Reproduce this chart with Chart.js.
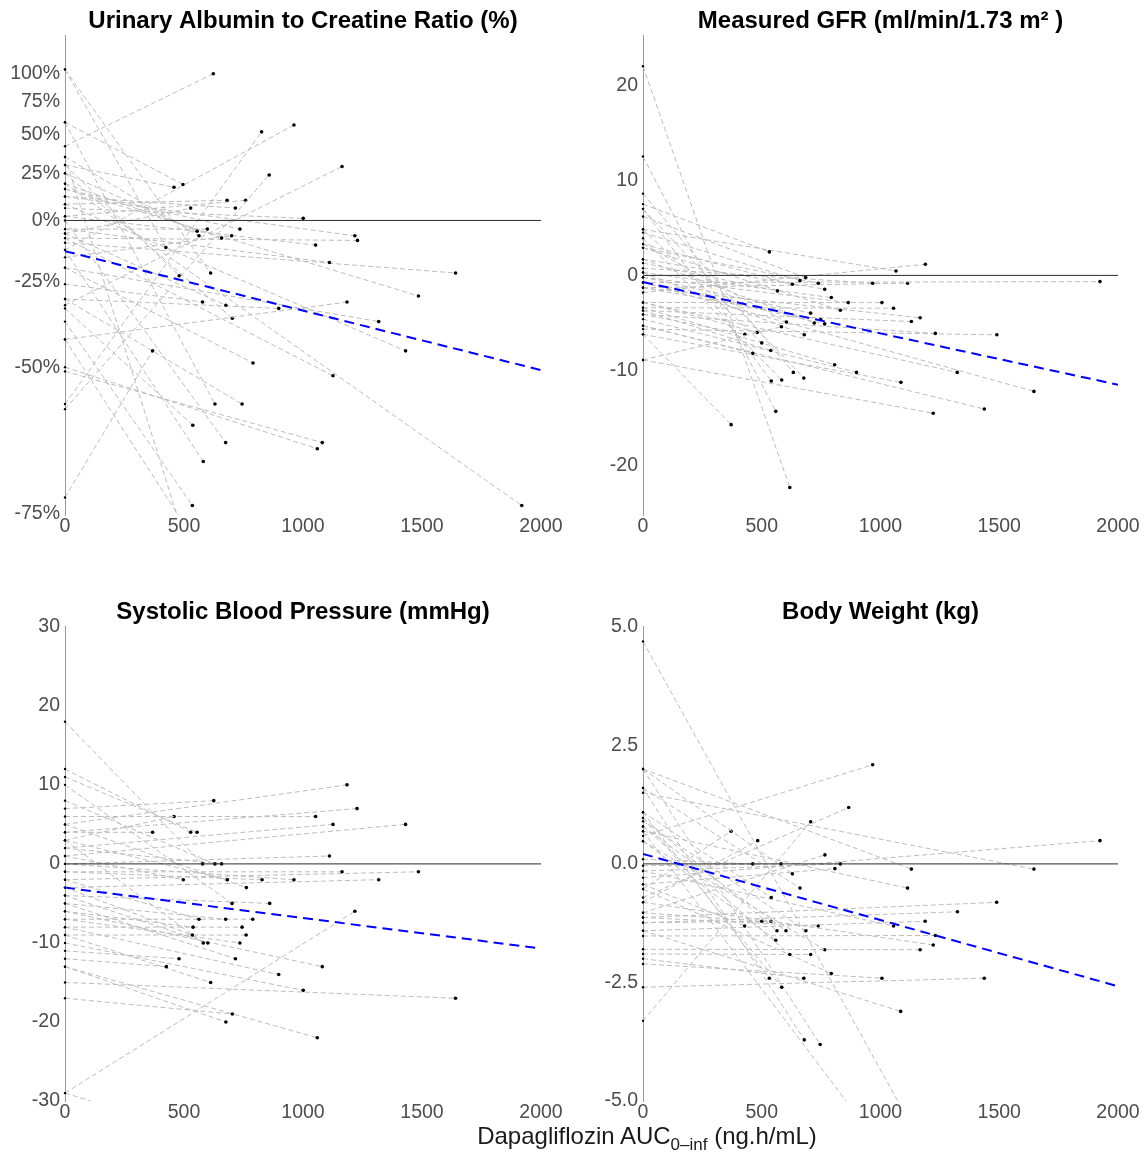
<!DOCTYPE html>
<html>
<head>
<meta charset="utf-8">
<script src="https://cdn.jsdelivr.net/npm/chart.js@4.4.0/dist/chart.umd.min.js"></script>
<style>
body { margin: 0; background: #fff; width: 1146px; height: 1152px; position: relative; overflow: hidden; font-family: "Liberation Sans", Arial, sans-serif; }
canvas { position: absolute; }
#xtitle { position: absolute; left: 347px; width: 600px; top: 1122px; text-align: center; font-size: 24px; color: #1a1a1a; }
#xtitle sub { font-size: 17px; }
</style>
</head>
<body>
<canvas id="c1" width="573" height="548" style="left:0;top:0"></canvas>
<canvas id="c2" width="568" height="548" style="left:578px;top:0"></canvas>
<canvas id="c3" width="573" height="543" style="left:0;top:591px"></canvas>
<canvas id="c4" width="568" height="543" style="left:578px;top:591px"></canvas>
<div id="xtitle">Dapagliflozin AUC<sub>0–inf</sub> (ng.h/mL)</div>
<script>
var aucTicks = [0, 500, 1000, 1500, 2000];

// urinary albumin to creatinine ratio, % change
var uacrStart = [42, -13, -58, -59, -33, 30, 59, 8, 2, 12, -6, 6, 25, 35, -4, 16, 19, -16, 2, -4, 104, 30, 104, 12, -8, -10, 16, -43, -20, 8, -8, -51, -50, 19, -26, -6, 25, -31, -73, -20, 59, -31, -34, 0, -13, -38, 35, -43];
var uacrAuc = [623, 962, 826, 858, 1164, 458, 496, 681, 759, 716, 528, 1001, 555, 563, 598, 735, 658, 700, 1053, 1111, 424, 480, 612, 1218, 1229, 1641, 1485, 1185, 1318, 1431, 1126, 1081, 1060, 1919, 578, 676, 703, 898, 368, 790, 630, 744, 537, 675, 581, 535, 560, 600];
var uacrEnd = [100, 57, 52, 24, 29, 17, 18.5, 10, 10, 6, 6, 1, -5, -7, -4, -4, -8, -7, -11, -18, -12, -23, -22, -7, -9, -22, -30, -32, -38, -46, -52, -65, -66, -74, -32, -33, -37, -34, -46, -49, -58, -58, -62, -65, -68, -74, -82, -80];
var uacrFit = [-13.5, -50.7];
var uacrTicks = [-75, -50, -25, 0, 25, 50, 75, 100];

// measured GFR
var gfrStart = [22, 12.5, 8.6, 7.5, 7.0, 6.2, 4.85, 4.5, 3.9, 3.3, 2.9, 1.7, 1.3, 0.75, 0.3, -0.2, -0.75, -1.8, -1.3, -2.85, -3.4, 2.9, -0.2, -1.3, 1.7, -0.75, 3.3, -8.9, 0.3, -4.1, -2.85, 4.85, -3.7, -5.3, -3.4, -4.6, 7.0, -6.2, -1.3, -3.7, -4.1, -5.65, -2.85, -6.2, -0.75, -5.3, -8.9];
var gfrAuc = [618, 559, 633, 532, 540, 685, 1065, 661, 584, 629, 738, 765, 566, 967, 793, 864, 1924, 1189, 1114, 1006, 1055, 831, 706, 748, 721, 765, 604, 583, 679, 429, 481, 500, 538, 462, 807, 899, 677, 371, 1167, 1130, 1231, 1490, 1323, 1086, 1646, 1437, 1222];
var gfrEnd = [-22.3, -14.3, -10.2, 2.47, -11.1, -0.23, 0.47, -0.55, -11.0, -0.93, -0.82, -1.45, -1.63, -0.82, -2.33, -2.86, -0.65, 1.17, -0.82, -2.86, -3.45, -3.66, -3.97, -4.64, -5.0, -5.1, -4.9, -5.4, -6.25, -6.2, -6.0, -7.1, -7.9, -8.2, -9.4, -10.2, -10.8, -15.7, -4.46, -4.85, -6.1, -6.25, -10.2, -11.25, -12.2, -14.05, -14.5];
var gfrFit = [-0.7, -11.5];
var gfrTicks = [-20, -10, 0, 10, 20];

// systolic blood pressure
var sbpStart = [18, 12, 11, 8, 7, 6, 5, 4, 4, 3, 2, 1, 0, 2, 1, 3, -1, 0, -1, -2, 5, -3, 10, -4, -2, -5, -7, -6, -8, -3, -9, 3, -4, -7, -11, -5, -12, -6, -9, -8, -10, -17, -13, -13, -15, -29, -29];
var sbpAuc = [578, 528, 555, 630, 625, 1053, 1185, 1227, 368, 458, 1126, 1431, 1111, 658, 497, 682, 828, 962, 1164, 1485, 762, 1318, 702, 860, 563, 675, 789, 538, 744, 535, 761, 581, 600, 735, 479, 716, 426, 1081, 612, 898, 1001, 703, 676, 1060, 1641, 1218, 1919];
var sbpEnd = [0, 4, 4, 0, 8, 6, 10, 7, 4, 6, 5, 5, 1, 0, -2, -2, -2, -2, -1, -1, -3, -2, -5, -5, -7, -7, -7, -8, -8, -9, -9, -10, -10, -10, -12, -12, -13, -13, -15, -14, -16, -19, -20, -22, -17, -6, -47];
var sbpFit = [-3.0, -10.7];
var sbpTicks = [-30, -20, -10, 0, 10, 20, 30];

// body weight
var wtStart = [4.69, 2.0, 2.0, 1.6, 1.5, 1.09, 0.97, 0.9, 0.79, 0.69, 0.59, 0.48, 0.1, -0.04, -0.15, -0.29, -0.43, -0.53, -0.71, -0.81, -1.03, -3.31, -1.13, -1.24, -1.41, -0.15, -1.52, -0.81, -1.8, -0.43, -1.03, -1.24, 0.79, -1.13, 0.48, -1.9, -0.53, 1.09, -2.0, 0.97, -2.11, 1.6, 2.0, -2.6, -1.41, 0.69];
var wtAuc = [1250, 629, 1130, 661, 1646, 540, 564, 686, 618, 1114, 967, 559, 462, 581, 831, 1924, 808, 371, 866, 483, 766, 706, 1489, 1324, 1188, 1055, 1231, 1222, 1167, 428, 500, 539, 602, 738, 765, 706, 793, 532, 677, 584, 1006, 679, 746, 1437, 1085, 900];
var wtEnd = [-6.6, -0.21, -0.11, -0.51, -0.11, -0.71, -1.41, -1.41, -1.91, -0.51, 2.09, -1.61, 0, 0, 0, 0.49, -0.1, 0.69, 1.19, 0.49, 0.19, 0.89, -0.81, -1.01, -1.21, -1.31, -1.51, -1.71, -1.81, -1.31, -1.21, -1.21, -1.41, -1.31, -1.81, -1.91, -2.31, -2.41, -2.41, -2.6, -2.41, -3.71, -3.81, -2.41, -3.11, -5.3];
var wtFit = [0.21, -2.58];
var wtTicks = [-5, -2.5, 0, 2.5, 5];

var FONT = "'Liberation Sans', Arial, sans-serif";
var TICK = '#4d4d4d';
var TICKSIZE = 19.5;

function ident(v) { return v; }
function pctToRatio(p) { return 1 + p / 100; }

function buildSets(starts, aucs, ends, fit, conv) {
    var sets = [];
    sets.push({
        data: [{x: 0, y: conv(fit[0])}, {x: 2000, y: conv(fit[1])}],
        showLine: true, borderColor: '#0000ff', borderWidth: 2, borderDash: [10, 6],
        pointRadius: 0, order: 0
    });
    sets.push({
        data: [{x: 0, y: conv(0)}, {x: 2000, y: conv(0)}],
        showLine: true, borderColor: '#2b2b2b', borderWidth: 1,
        pointRadius: 0, order: 1
    });
    for (var i = 0; i < starts.length; i++) {
        sets.push({
            data: [{x: 0, y: conv(starts[i])}, {x: aucs[i], y: conv(ends[i])}],
            showLine: true, borderColor: '#bcbcbc', borderWidth: 1, borderDash: [5, 3],
            pointRadius: [1.2, 1.8], pointBackgroundColor: '#000', pointBorderWidth: 0,
            order: 2, clip: {left: 4, right: 4, top: 4, bottom: 0}
        });
    }
    return sets;
}

function makeChart(id, title, sets, padRight, yScale) {
    new Chart(document.getElementById(id), {
        type: 'scatter',
        data: {datasets: sets},
        options: {
            animation: false,
            responsive: false,
            layout: {padding: {left: 0, right: padRight, top: 0, bottom: 0}},
            plugins: {
                legend: {display: false},
                tooltip: {enabled: false},
                title: {
                    display: true, text: title, fullSize: false, color: '#000',
                    padding: {top: 7, bottom: 0},
                    font: {size: 24, weight: 'bold', family: FONT}
                }
            },
            scales: {
                x: {
                    type: 'linear', min: 0, max: 2000,
                    grid: {display: false, drawTicks: false},
                    border: {display: false},
                    afterBuildTicks: function (s) { s.ticks = aucTicks.map(function (v) { return {value: v}; }); },
                    afterFit: function (s) { s.height = 33; },
                    ticks: {
                        font: {size: TICKSIZE, family: FONT}, color: TICK, padding: 0, maxRotation: 0, autoSkip: false,
                        callback: function (v) { return String(v); }
                    }
                },
                y: yScale
            }
        }
    });
}

function yLinear(min, max, list, dec) {
    return {
        type: 'linear', min: min, max: max,
        grid: {display: false, drawTicks: false},
        border: {display: true, color: '#999', width: 1},
        afterBuildTicks: function (s) { s.ticks = list.map(function (v) { return {value: v}; }); },
        afterFit: function (s) { s.width = 65; },
        ticks: {
            font: {size: TICKSIZE, family: FONT}, color: TICK, padding: 5, autoSkip: false,
            callback: function (v) { return dec ? v.toFixed(dec) : String(v); }
        }
    };
}

var uacrY = {
    type: 'logarithmic', min: 0.2486, max: 2.393,
    grid: {display: false, drawTicks: false},
    border: {display: true, color: '#999', width: 1},
    afterBuildTicks: function (s) { s.ticks = uacrTicks.map(function (p) { return {value: pctToRatio(p)}; }); },
    afterFit: function (s) { s.width = 65; },
    ticks: {
        font: {size: TICKSIZE, family: FONT}, color: TICK, padding: 5, autoSkip: false,
        callback: function (v) { return Math.round((v - 1) * 100) + '%'; }
    }
};

makeChart('c1', 'Urinary Albumin to Creatine Ratio (%)',
    buildSets(uacrStart, uacrAuc, uacrEnd, uacrFit, pctToRatio), 32, uacrY);
makeChart('c2', 'Measured GFR (ml/min/1.73 m\u00B2 )',
    buildSets(gfrStart, gfrAuc, gfrEnd, gfrFit, ident), 28, yLinear(-25.2, 25.2, gfrTicks, 0));
makeChart('c3', 'Systolic Blood Pressure (mmHg)',
    buildSets(sbpStart, sbpAuc, sbpEnd, sbpFit, ident), 32, yLinear(-30, 30, sbpTicks, 0));
makeChart('c4', 'Body Weight (kg)',
    buildSets(wtStart, wtAuc, wtEnd, wtFit, ident), 28, yLinear(-5, 5, wtTicks, 1));
</script>
</body>
</html>
